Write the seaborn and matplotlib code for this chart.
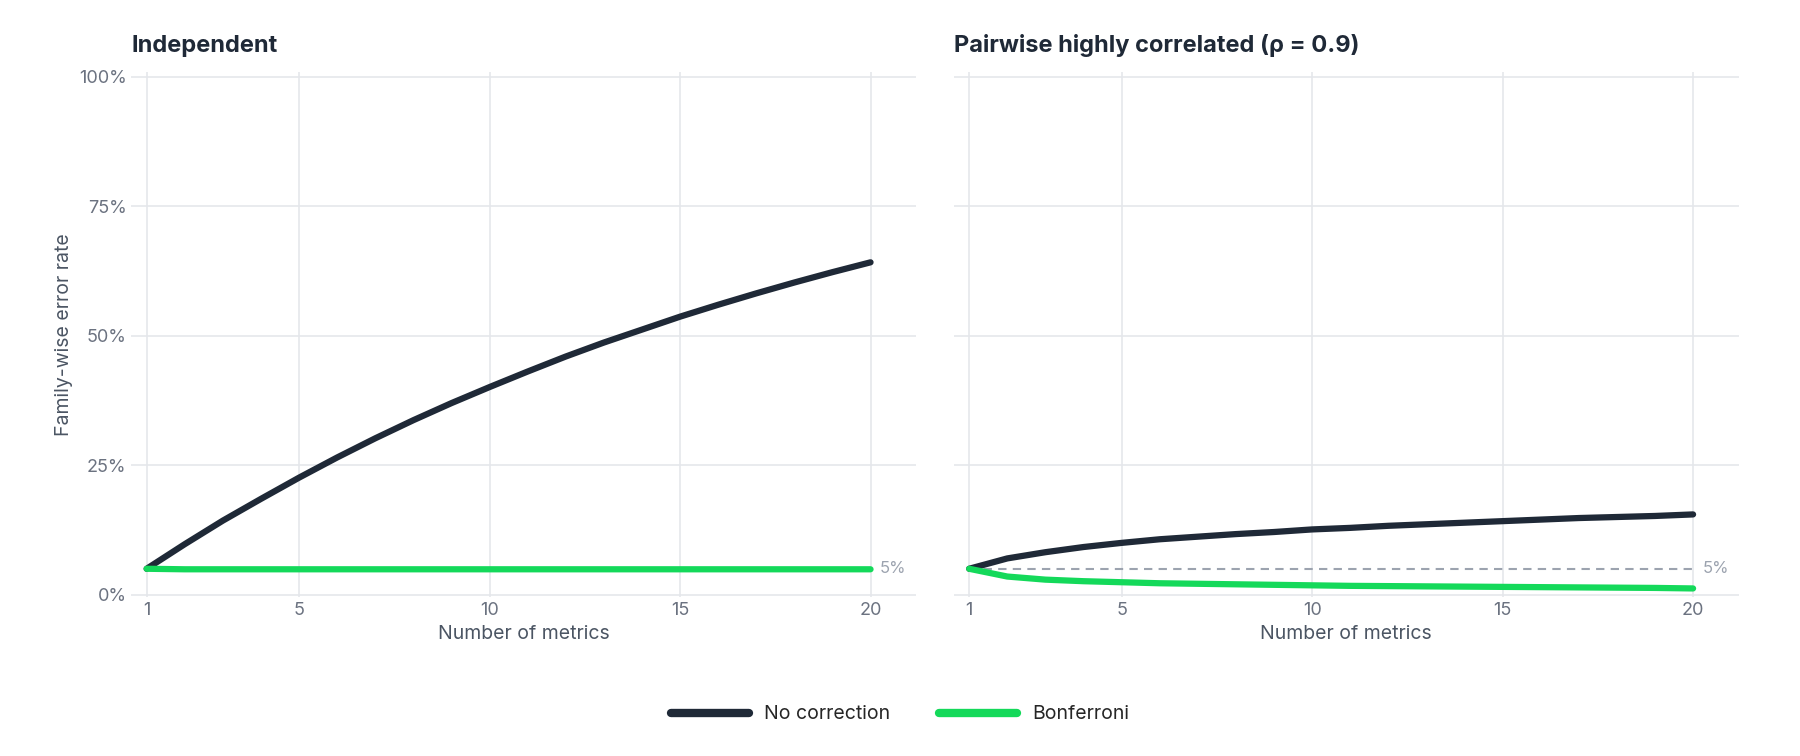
import matplotlib
matplotlib.use("Agg")
import matplotlib.pyplot as plt
import seaborn as sns
import pandas as pd
from matplotlib.ticker import PercentFormatter

metrics = list(range(1, 21))
indep_none = [0.05, 0.0975, 0.143, 0.185, 0.226, 0.265, 0.302, 0.337, 0.370, 0.401,
              0.431, 0.460, 0.487, 0.512, 0.537, 0.560, 0.582, 0.603, 0.623, 0.642]
indep_bonf = [0.05, 0.049, 0.049, 0.049, 0.049, 0.049, 0.049, 0.049, 0.049, 0.049,
              0.049, 0.049, 0.049, 0.049, 0.049, 0.049, 0.049, 0.049, 0.049, 0.049]
corr_none = [0.05, 0.070, 0.082, 0.092, 0.100, 0.107, 0.112, 0.117, 0.121, 0.126,
             0.129, 0.133, 0.136, 0.139, 0.142, 0.145, 0.148, 0.150, 0.152, 0.155]
corr_bonf = [0.05, 0.035, 0.029, 0.026, 0.024, 0.022, 0.021, 0.020, 0.019, 0.018,
             0.017, 0.0165, 0.016, 0.0155, 0.015, 0.0145, 0.014, 0.0135, 0.013, 0.012]
titles = ["Independent", "Pairwise highly correlated (\u03c1 = 0.9)"]
methods = ["No correction", "Bonferroni"]
colors = {"No correction": "#1f2937", "Bonferroni": "#14d95a"}
xticks = [1, 5, 10, 15, 20]
yticks = [0, 0.25, 0.5, 0.75, 1.0]

sns.set_theme(style="whitegrid")
plt.rcParams['font.family'] = ['Inter', 'DejaVu Sans']

fig, axes = plt.subplots(1, 2, figsize=(18, 7.56), dpi=100, sharey=True)
fig.subplots_adjust(left=0.073, right=0.966, top=0.905, bottom=0.21, wspace=0.048)

series = [(indep_none, indep_bonf), (corr_none, corr_bonf)]
for i, (ax, (none, bonf)) in enumerate(zip(axes, series)):
    df = pd.DataFrame({"n": metrics * 2, "rate": none + bonf,
                       "method": ["No correction"] * 20 + ["Bonferroni"] * 20})
    ax.plot([1, 20], [0.05, 0.05], ls=(0, (4, 3)), color="#9ca3af", lw=1.5, zorder=1)
    sns.lineplot(data=df, x="n", y="rate", hue="method", hue_order=methods,
                 palette=colors, lw=4.5, ax=ax, legend=(i == 0), zorder=3)
    ax.text(20.25, 0.05, "5%", color="#9ca3af", fontsize=12, va="center", ha="left")
    ax.set_xlim(0.6, 21.2)
    ax.set_ylim(-0.005, 1.01)
    ax.set_xticks(xticks)
    ax.set_yticks(yticks)
    ax.yaxis.set_major_formatter(PercentFormatter(1.0, decimals=0))
    ax.set_title(titles[i], loc="left", fontsize=17, fontweight="bold", color="#1f2937", pad=14)
    ax.set_xlabel("Number of metrics", fontsize=14, color="#4b5563", labelpad=4)
    ax.set_ylabel("Family-wise error rate" if i == 0 else "", fontsize=14, color="#4b5563")
    ax.tick_params(colors="#6b7280", labelsize=13, length=0)
    ax.grid(True, color="#e5e7eb", lw=1.2)
    for s in ax.spines.values():
        s.set_visible(False)

handles, labels = axes[0].get_legend_handles_labels()
axes[0].get_legend().remove()
fig.legend(handles, labels, loc="lower center", ncol=2, frameon=False, fontsize=14,
           bbox_to_anchor=(0.5, 0.02), handlelength=4, columnspacing=2.5)
for h in fig.legends[0].get_lines():
    h.set_linewidth(6)

fig.savefig("out.png", dpi=100)
